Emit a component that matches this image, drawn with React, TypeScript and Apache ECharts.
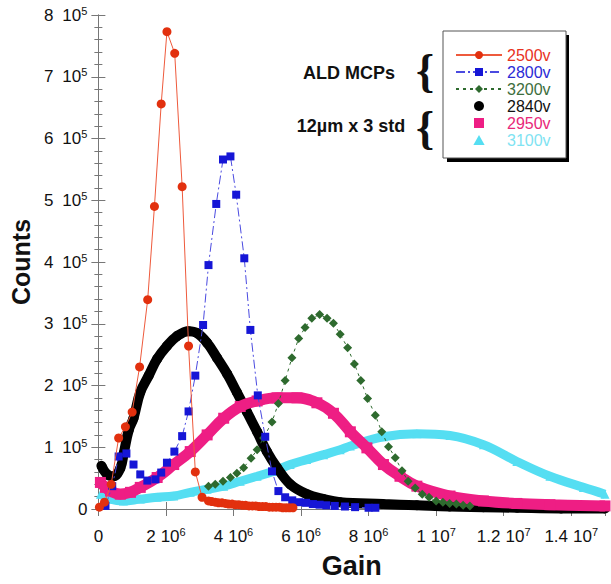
import React, { useEffect, useRef } from "react";
import * as echarts from "echarts";

// Gain values in units of 1e6, counts in units of 1e5
const redX = [0.03, 0.18, 0.38, 0.6, 0.8, 1.0, 1.22, 1.46, 1.66, 1.86, 2.03, 2.26, 2.48, 2.67, 2.87, 3.07, 3.26, 3.36, 3.46, 3.56, 3.66, 3.76, 3.86, 3.96, 4.06, 4.16, 4.26, 4.36, 4.46, 4.56, 4.66, 4.76, 4.86, 4.96, 5.06, 5.16, 5.26, 5.36, 5.46, 5.56, 5.66, 5.76];
const redY = [0.03, 0.11, 0.4, 1.15, 1.33, 1.57, 2.3, 3.39, 4.9, 6.56, 7.73, 7.38, 5.22, 2.64, 0.6, 0.19, 0.13, 0.12, 0.11, 0.1, 0.1, 0.09, 0.08, 0.08, 0.07, 0.07, 0.06, 0.06, 0.05, 0.05, 0.05, 0.04, 0.04, 0.04, 0.03, 0.03, 0.03, 0.03, 0.02, 0.02, 0.02, 0.02];

const blueX = [0.21, 0.41, 0.6, 0.83, 1.04, 1.24, 1.45, 1.69, 1.86, 2.03, 2.25, 2.48, 2.67, 2.87, 3.1, 3.26, 3.49, 3.69, 3.91, 4.08, 4.32, 4.5, 4.72, 4.94, 5.14, 5.33, 5.53, 5.74, 5.95, 6.15, 6.35, 6.55, 6.75, 7.0, 7.3, 7.6, 8.0, 8.2];
const blueY = [0.05, 0.37, 0.85, 0.9, 0.72, 0.56, 0.46, 0.48, 0.59, 0.75, 0.93, 1.18, 1.58, 2.16, 2.98, 3.95, 4.94, 5.66, 5.71, 5.09, 4.06, 2.9, 1.84, 1.17, 0.61, 0.29, 0.19, 0.14, 0.11, 0.1, 0.08, 0.07, 0.06, 0.05, 0.04, 0.03, 0.02, 0.02];

const greenX = [3.26, 3.46, 3.69, 3.91, 4.1, 4.3, 4.52, 4.7, 4.89, 5.14, 5.33, 5.53, 5.73, 5.93, 6.12, 6.32, 6.55, 6.77, 6.96, 7.16, 7.38, 7.58, 7.77, 7.97, 8.2, 8.39, 8.59, 8.79, 8.99, 9.17, 9.38, 9.59, 9.79, 10.0, 10.2, 10.4, 10.6, 10.8, 11.0];
const greenY = [0.37, 0.4, 0.45, 0.51, 0.58, 0.67, 0.82, 0.96, 1.15, 1.41, 1.71, 2.08, 2.45, 2.76, 2.94, 3.09, 3.15, 3.09, 3.01, 2.83, 2.61, 2.35, 2.08, 1.79, 1.52, 1.25, 1.01, 0.83, 0.62, 0.45, 0.34, 0.24, 0.19, 0.13, 0.11, 0.09, 0.08, 0.06, 0.05];

const blackX = [0.09, 0.26, 0.45, 0.65, 0.75, 0.9, 1.04, 1.24, 1.49, 1.74, 2.03, 2.33, 2.67, 2.92, 3.22, 3.51, 3.81, 4.1, 4.4, 4.7, 4.99, 5.29, 5.68, 6.17, 6.67, 7.16, 8.43, 9.43, 10.4, 11.4, 12.4, 13.7, 15.0];
const blackY = [0.7, 0.56, 0.53, 0.66, 0.9, 1.28, 1.47, 1.89, 2.16, 2.43, 2.64, 2.8, 2.88, 2.85, 2.69, 2.45, 2.19, 1.89, 1.57, 1.25, 0.93, 0.67, 0.4, 0.24, 0.16, 0.11, 0.08, 0.06, 0.04, 0.03, 0.02, 0.01, 0.01];

const pinkX = [0.06, 0.21, 0.36, 0.65, 0.95, 1.24, 1.74, 2.23, 2.72, 3.22, 3.71, 4.2, 4.7, 5.29, 5.88, 6.47, 6.96, 7.46, 7.95, 8.44, 8.93, 9.43, 10.41, 11.4, 12.39, 13.37, 15.0];
const pinkY = [0.43, 0.35, 0.29, 0.24, 0.27, 0.35, 0.51, 0.72, 0.93, 1.2, 1.47, 1.66, 1.75, 1.8, 1.8, 1.72, 1.55, 1.25, 0.99, 0.72, 0.53, 0.37, 0.21, 0.13, 0.09, 0.07, 0.05];

const cyanX = [0.06, 0.36, 0.74, 1.24, 1.74, 2.23, 2.72, 3.22, 3.71, 4.2, 4.7, 5.19, 5.68, 6.17, 6.67, 7.16, 7.46, 8.44, 9.43, 10.41, 11.4, 12.39, 13.37, 14.36, 15.0];
const cyanY = [0.24, 0.16, 0.13, 0.16, 0.19, 0.21, 0.27, 0.32, 0.37, 0.45, 0.53, 0.61, 0.72, 0.8, 0.88, 0.96, 1.02, 1.17, 1.22, 1.19, 1.04, 0.77, 0.53, 0.35, 0.24];

const seriesNames = ["2500v", "2800v", "3200v", "2840v", "2950v", "3100v"];
const legendTextColors = ["#e8321e", "#2b2bd6", "#3d6e3d", "#111111", "#e8287a", "#7fe3f2"];
const annotations = ["ALD MCPs", "12\u00b5m x 3 std"];

const pairs = (xs: number[], ys: number[]) => xs.map((x, i) => [x * 1e6, ys[i] * 1e5]);

const FONT = '"Liberation Sans", Arial, sans-serif';

function supLabel(v: number, axis: "x" | "y") {
  if (v === 0) return "{m|0}";
  let exp: number;
  if (axis === "y") exp = 5;
  else exp = v >= 1e7 ? 7 : 6;
  const mant = +(v / Math.pow(10, exp)).toFixed(2);
  const tag = axis === "y" ? "ay" : "ax";
  return `{${tag}|${mant}}{m|10}{e|${exp}}`;
}

const base = { fontSize: 17, fontFamily: FONT, color: "#111", lineHeight: 20 };
const rich = {
  ay: { ...base, padding: [0, 9, 0, 0] },
  ax: { ...base, padding: [0, 5, 0, 0] },
  m: { ...base },
  e: { fontSize: 11, fontFamily: FONT, color: "#111", verticalAlign: "top", lineHeight: 11 },
};

export default function App() {
  const ref = useRef<HTMLDivElement>(null);
  useEffect(() => {
    if (!ref.current) return;
    const chart = echarts.init(ref.current, null, { renderer: "svg" });
    const axisColor = "#777";
    chart.setOption({
      animation: false,
      backgroundColor: "#fff",
      grid: { left: 98, right: 6, top: 15, bottom: 69 },
      legend: {
        orient: "vertical",
        left: 455,
        top: 47,
        padding: 0,
        itemWidth: 46,
        itemHeight: 10,
        itemGap: 1,
        z: 10,
        textStyle: { fontSize: 16, fontFamily: FONT, lineHeight: 16 },
        data: [
          { name: seriesNames[0], textStyle: { color: legendTextColors[0] } },
          { name: seriesNames[1], textStyle: { color: legendTextColors[1] } },
          { name: seriesNames[2], textStyle: { color: legendTextColors[2] } },
          { name: seriesNames[3], icon: "circle", textStyle: { color: legendTextColors[3] } },
          { name: seriesNames[4], icon: "path://M0,0L9,0L9,9L0,9Z", textStyle: { color: legendTextColors[4] } },
          { name: seriesNames[5], icon: "path://M4.5,0L9,8L0,8Z", textStyle: { color: legendTextColors[5] } },
        ],
      },
      xAxis: [
        {
          type: "value",
          min: 0,
          max: 1.5e7,
          interval: 2e6,
          name: "Gain",
          nameLocation: "middle",
          nameGap: 43,
          nameTextStyle: { fontSize: 27, fontWeight: "bold", fontFamily: FONT, color: "#111" },
          axisLine: { lineStyle: { color: axisColor } },
          axisTick: { inside: true, length: 7, lineStyle: { color: axisColor } },
          splitLine: { show: false },
          axisLabel: { margin: 17, formatter: (v: number) => supLabel(v, "x"), rich },
        },
        {
          type: "value",
          position: "top",
          min: 0,
          max: 1.5e7,
          interval: 2e6,
          axisLine: { show: true, lineStyle: { color: axisColor } },
          axisTick: { inside: true, length: 7, lineStyle: { color: axisColor } },
          axisLabel: { show: false },
          splitLine: { show: false },
        },
      ],
      yAxis: [
        {
          type: "value",
          min: 0,
          max: 8e5,
          interval: 1e5,
          name: "Counts",
          nameLocation: "middle",
          nameGap: 63,
          nameTextStyle: { fontSize: 25, fontWeight: "bold", fontFamily: FONT, color: "#111" },
          axisLine: { show: true, lineStyle: { color: axisColor } },
          axisTick: { inside: true, length: 7, lineStyle: { color: axisColor } },
          minorTick: { show: true, splitNumber: 5, length: 4, lineStyle: { color: axisColor } },
          splitLine: { show: false },
          axisLabel: { margin: 11, formatter: (v: number) => supLabel(v, "y"), rich },
        },
        {
          type: "value",
          position: "right",
          min: 0,
          max: 8e5,
          interval: 1e5,
          axisLine: { show: true, lineStyle: { color: axisColor } },
          axisTick: { inside: true, length: 7, lineStyle: { color: axisColor } },
          minorTick: { show: true, splitNumber: 5, length: 4, lineStyle: { color: axisColor } },
          axisLabel: { show: false },
          splitLine: { show: false },
        },
      ],
      graphic: [
        { type: "rect", z: 5, shape: { x: 447, y: 35, width: 122, height: 127 }, style: { fill: "#000" } },
        { type: "rect", z: 6, shape: { x: 443, y: 31, width: 123, height: 127 }, style: { fill: "#fff", stroke: "#555", lineWidth: 1 } },
        { type: "text", z: 6, x: 349, y: 73, style: { text: annotations[0], align: "center", verticalAlign: "middle", font: `bold 18px ${FONT}`, fill: "#111" } },
        { type: "text", z: 6, x: 351, y: 126, style: { text: annotations[1], align: "center", verticalAlign: "middle", font: `bold 18px ${FONT}`, fill: "#111" } },
        { type: "text", z: 6, x: 425, y: 70, style: { text: "{", align: "center", verticalAlign: "middle", font: `bold 46px "Liberation Serif", serif`, fill: "#111" } },
        { type: "text", z: 6, x: 425, y: 127, style: { text: "{", align: "center", verticalAlign: "middle", font: `bold 46px "Liberation Serif", serif`, fill: "#111" } },
      ],
      series: [
        {
          name: seriesNames[5],
          type: "line",
          data: pairs(cyanX, cyanY),
          smooth: 0.4,
          symbol: "triangle",
          symbolSize: 9,
          itemStyle: { color: "#55def2" },
          lineStyle: { color: "#55def2", width: 9 },
          z: 2,
        },
        {
          name: seriesNames[3],
          type: "line",
          data: pairs(blackX, blackY),
          smooth: 0.4,
          symbol: "circle",
          symbolSize: 10,
          itemStyle: { color: "#000" },
          lineStyle: { color: "#000", width: 10 },
          z: 3,
        },
        {
          name: seriesNames[4],
          type: "line",
          data: pairs(pinkX, pinkY),
          smooth: 0.4,
          symbol: "rect",
          symbolSize: 11,
          itemStyle: { color: "#ee1e84" },
          lineStyle: { color: "#ee1e84", width: 11 },
          z: 4,
        },
        {
          name: seriesNames[2],
          type: "line",
          data: pairs(greenX, greenY),
          symbol: "diamond",
          symbolSize: 9,
          itemStyle: { color: "#2e6a2e" },
          lineStyle: { color: "#2e6a2e", width: 1, type: [3, 4] },
          z: 5,
        },
        {
          name: seriesNames[1],
          type: "line",
          data: pairs(blueX, blueY),
          symbol: "rect",
          symbolSize: 8,
          itemStyle: { color: "#1616d6" },
          lineStyle: { color: "#4a4ae0", width: 1, type: [9, 3, 2, 3] },
          z: 6,
        },
        {
          name: seriesNames[0],
          type: "line",
          data: pairs(redX, redY),
          symbol: "circle",
          symbolSize: 9,
          itemStyle: { color: "#e2300e" },
          lineStyle: { color: "#ee5a3c", width: 1 },
          z: 7,
        },
      ],
    });
    return () => chart.dispose();
  }, []);
  return <div ref={ref} style={{ position: "absolute", left: 0, top: 0, width: 611, height: 584 }} />;
}
